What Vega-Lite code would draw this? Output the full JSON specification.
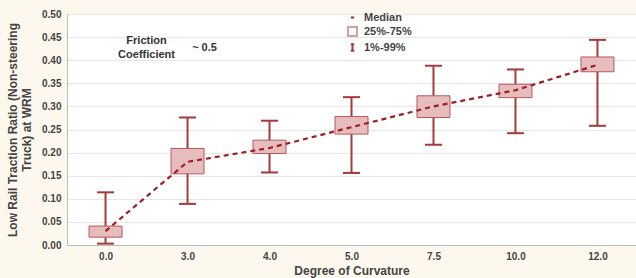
{
  "$schema": "https://vega.github.io/schema/vega-lite/v6.json",
  "width": 569,
  "height": 231,
  "autosize": {"type": "none"},
  "padding": {"left": 67, "top": 14, "right": 0, "bottom": 33},
  "background": "#fcf8ee",
  "config": {
    "view": {"fill": "white", "stroke": "#c8c8c8"},
    "font": "Liberation Sans",
    "axis": {"labelFont": "Liberation Sans", "labelFontWeight": "bold", "labelColor": "#444", "labelFontSize": 10, "labelOverlap": false, "titleFont": "Liberation Sans", "titleFontWeight": "bold", "titleColor": "#444", "titleFontSize": 11.5}
  },
  "datasets": {
    "stats": [
      {"cat": "0.0", "lo": 0.003, "q1": 0.017, "med": 0.03, "q3": 0.041, "hi": 0.114},
      {"cat": "3.0", "lo": 0.089, "q1": 0.154, "med": 0.18, "q3": 0.209, "hi": 0.276},
      {"cat": "4.0", "lo": 0.157, "q1": 0.198, "med": 0.21, "q3": 0.227, "hi": 0.269},
      {"cat": "5.0", "lo": 0.156, "q1": 0.240, "med": 0.255, "q3": 0.278, "hi": 0.320},
      {"cat": "7.5", "lo": 0.217, "q1": 0.276, "med": 0.30, "q3": 0.323, "hi": 0.388},
      {"cat": "10.0", "lo": 0.242, "q1": 0.319, "med": 0.335, "q3": 0.348, "hi": 0.380},
      {"cat": "12.0", "lo": 0.258, "q1": 0.375, "med": 0.39, "q3": 0.407, "hi": 0.444}
    ],
    "notes": [
      {"cat": "0.0", "v": 0.441, "t": "Friction"},
      {"cat": "0.0", "v": 0.411, "t": "Coefficient"}
    ],
    "legend": [
      {"k": "Median"}, {"k": "25%-75%"}, {"k": "1%-99%"}
    ]
  },
  "encoding": {
    "x": {
      "field": "cat", "type": "ordinal", "sort": null,
      "scale": {"type": "point", "padding": 0.47, "domain": ["0.0","3.0","4.0","5.0","7.5","10.0","12.0"]},
      "axis": {"title": "Degree of Curvature", "labelAngle": 0, "domain": true, "domainColor": "#bbb", "ticks": false, "labelPadding": 6, "titlePadding": 4, "grid": false, "titleFontSize": 12}
    }
  },
  "layer": [
    {
      "data": {"name": "stats"},
      "mark": {"type": "rule", "color": "#a63a3a", "strokeWidth": 2},
      "encoding": {
        "y": {"field": "lo", "type": "quantitative",
          "scale": {"domain": [0, 0.5], "nice": false, "zero": true},
          "axis": {"title": ["Low Rail Traction Ratio (Non-steering", "Truck) at WRM"], "format": ".2f", "tickCount": 10, "labelOverlap": false, "gridColor": "#e6e6e6", "domainColor": "#bbb", "ticks": false, "labelPadding": 6, "titlePadding": 8, "titleFontSize": 12}},
        "y2": {"field": "hi"}
      }
    },
    {
      "data": {"name": "stats"},
      "mark": {"type": "tick", "orient": "horizontal", "color": "#a63a3a", "size": 17, "thickness": 2, "opacity": 1},
      "encoding": {"y": {"field": "lo", "type": "quantitative"}}
    },
    {
      "data": {"name": "stats"},
      "mark": {"type": "tick", "orient": "horizontal", "color": "#a63a3a", "size": 17, "thickness": 2, "opacity": 1},
      "encoding": {"y": {"field": "hi", "type": "quantitative"}}
    },
    {
      "data": {"name": "stats"},
      "mark": {"type": "bar", "width": 33, "fill": "#e6bcbc", "stroke": "#b55a5a", "strokeWidth": 1},
      "encoding": {"y": {"field": "q1", "type": "quantitative"}, "y2": {"field": "q3"}}
    },
    {
      "data": {"name": "stats"},
      "mark": {"type": "line", "color": "#9b1f24", "strokeWidth": 2.2, "strokeDash": [5, 4]},
      "encoding": {"y": {"field": "med", "type": "quantitative"}}
    },
    {
      "data": {"name": "notes"},
      "mark": {"type": "text", "dx": 41, "font": "Liberation Sans", "fontWeight": "bold", "fontSize": 11, "color": "#333", "align": "center"},
      "encoding": {"y": {"field": "v", "type": "quantitative"}, "text": {"field": "t"}}
    },
    {
      "data": {"values": [{"cat": "3.0", "v": 0.426, "t": "~ 0.5"}]},
      "mark": {"type": "text", "dx": 17, "font": "Liberation Sans", "fontWeight": "bold", "fontSize": 11, "color": "#333", "align": "center"},
      "encoding": {"y": {"field": "v", "type": "quantitative"}, "text": {"field": "t"}}
    },
    {
      "data": {"name": "legend"},
      "mark": {"type": "point", "opacity": 0, "filled": false},
      "encoding": {
        "x": {"datum": "0.0"},
        "y": {"datum": 0, "type": "quantitative"},
        "shape": {"field": "k", "type": "nominal",
          "scale": {"domain": ["Median", "25%-75%", "1%-99%"], "range": ["M-0.35,0H0.35", "square", "M-0.4,-0.75H0.4M0,-0.75V0.75M-0.4,0.75H0.4"]},
          "legend": {"title": null, "orient": "none", "legendX": 280, "legendY": -2, "symbolOpacity": 1, "symbolStrokeWidth": 2, "symbolSize": 80, "labelFont": "Liberation Sans", "labelFontWeight": "bold", "labelFontSize": 11, "labelColor": "#444", "rowPadding": 0, "labelOffset": 6,
            "encode": {"symbols": {"update": {"opacity": {"value": 1}, "fill": {"signal": "datum.value === '25%-75%' ? '#e6bcbc' : 'transparent'"}, "stroke": {"signal": "datum.value === '25%-75%' ? '#d9a0a0' : '#a63a3a'"}, "strokeWidth": {"signal": "datum.value === '25%-75%' ? 1 : 2"}}}}}
        },
        "color": {"field": "k", "type": "nominal", "scale": {"domain": ["Median", "25%-75%", "1%-99%"], "range": ["#9b1f24", "#d9a0a0", "#a63a3a"]}}
      }
    }
  ]
}
